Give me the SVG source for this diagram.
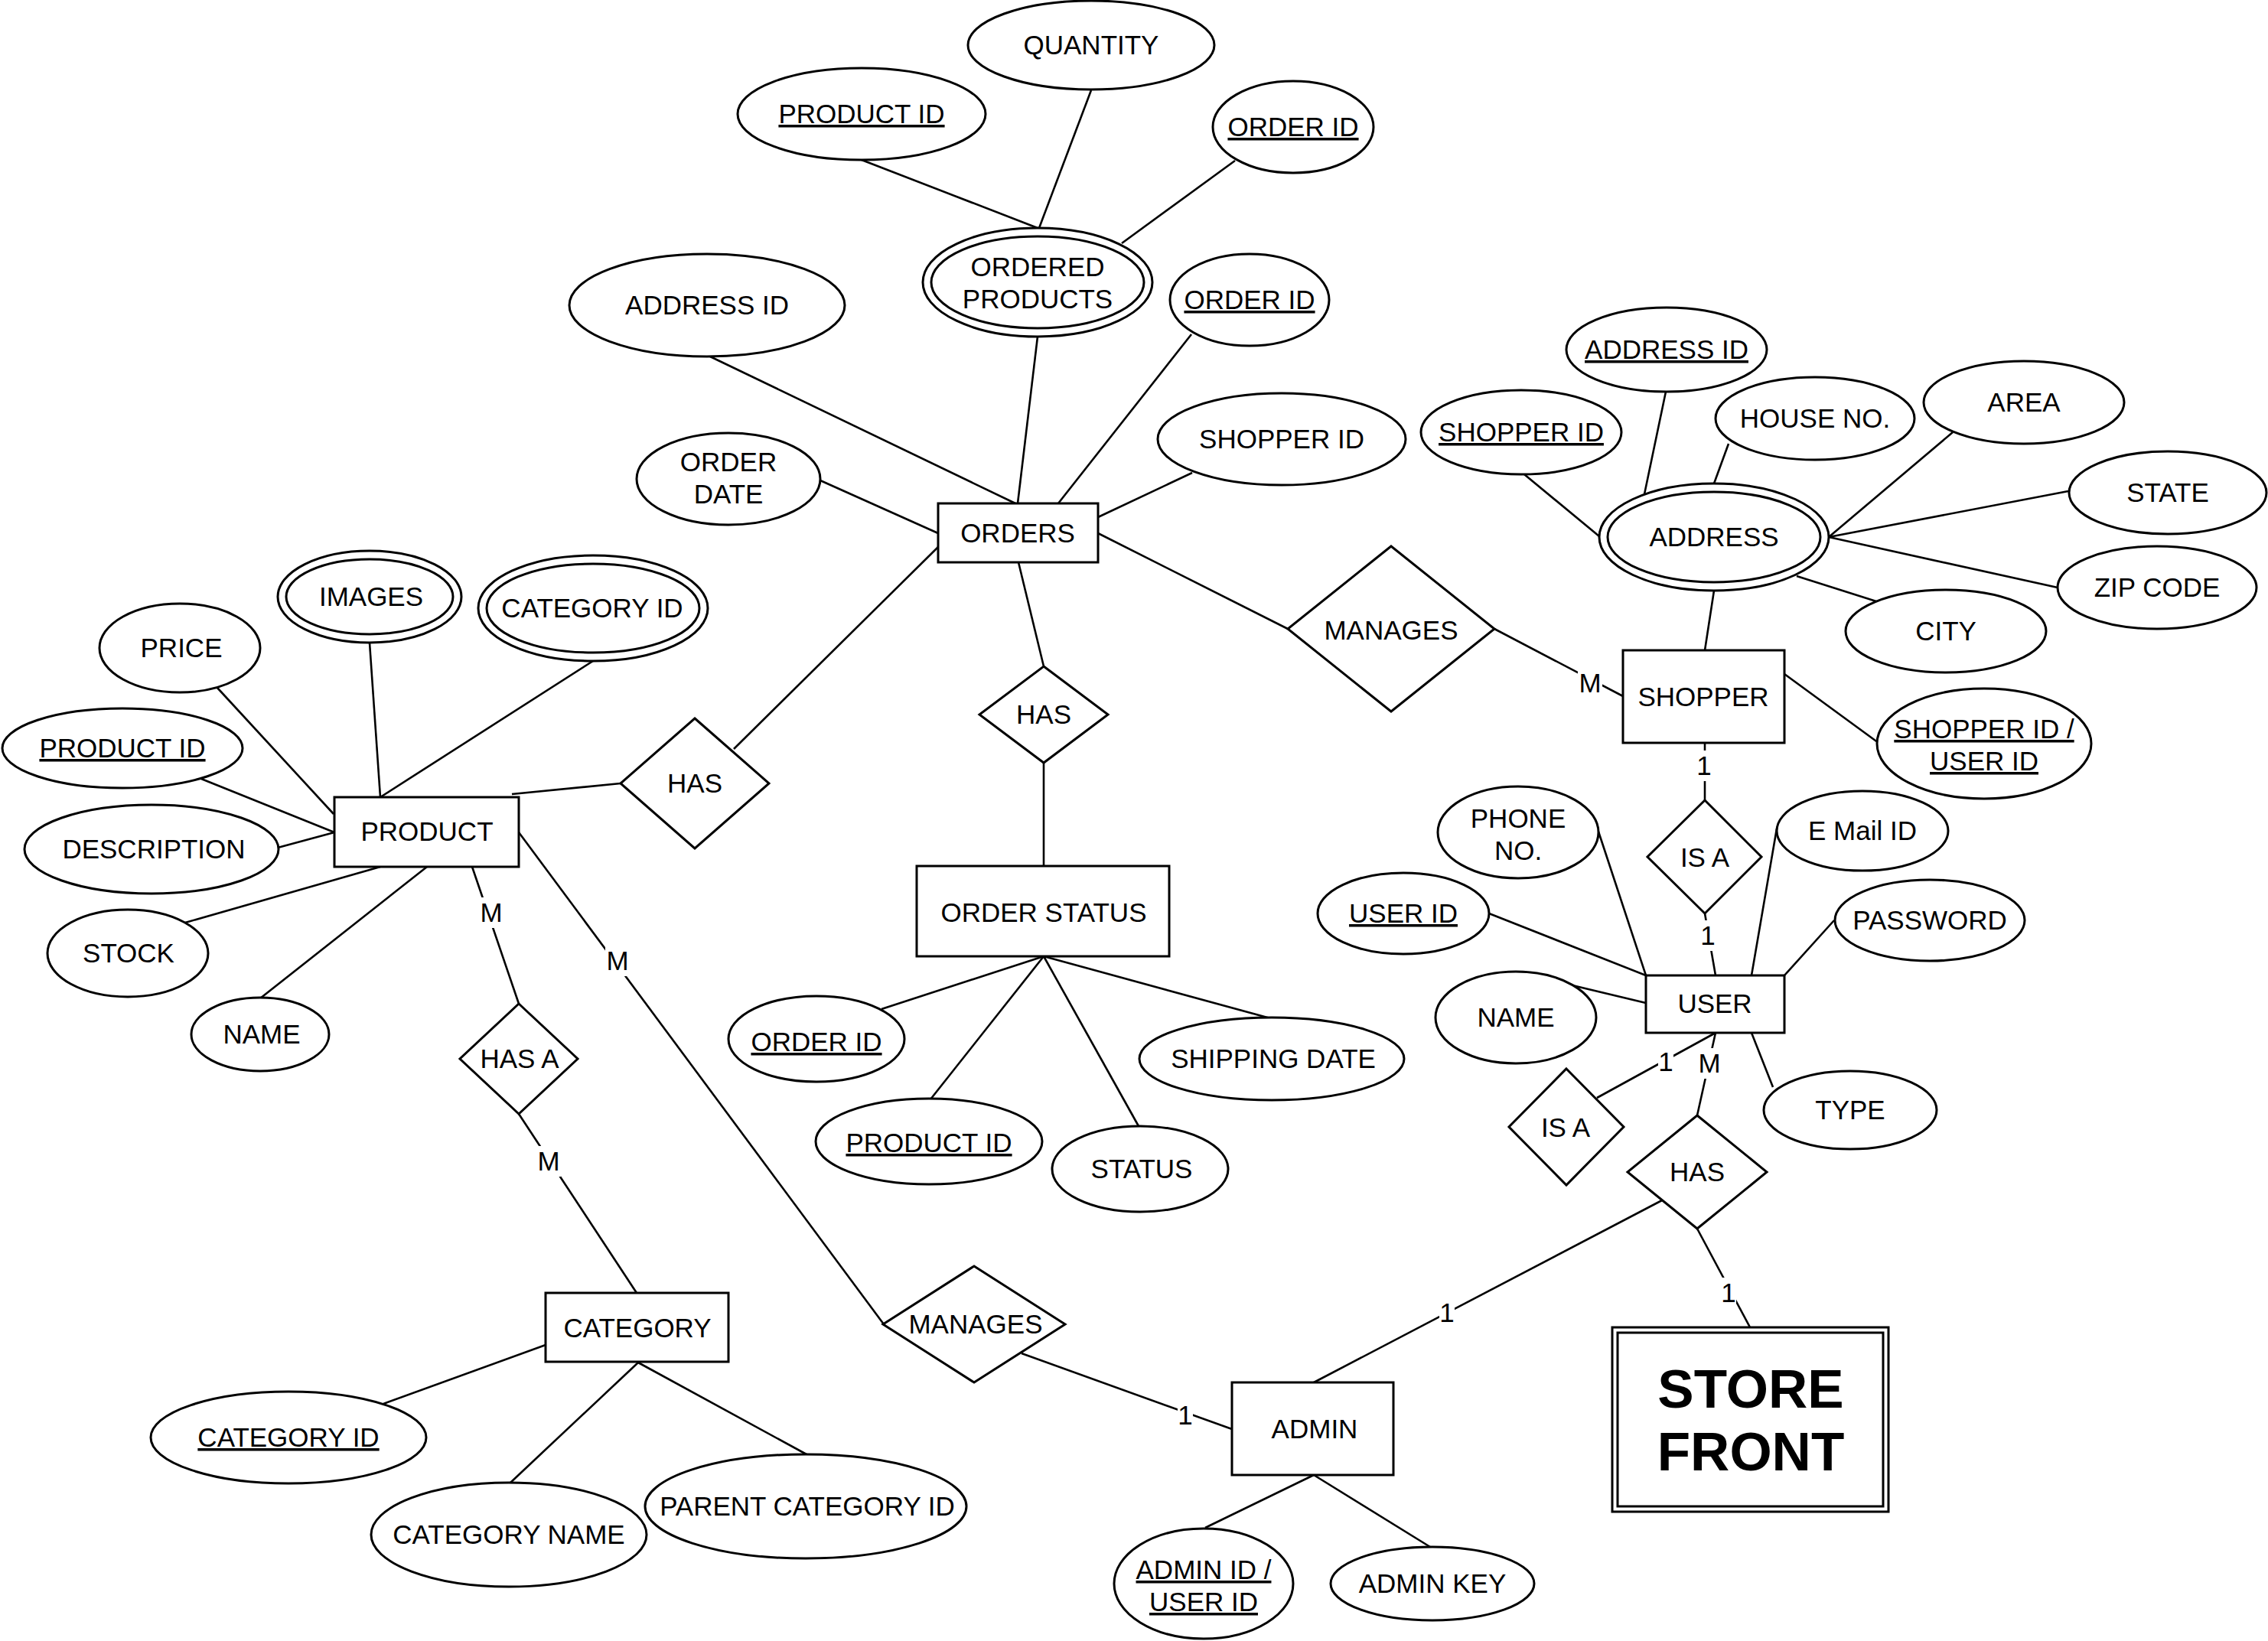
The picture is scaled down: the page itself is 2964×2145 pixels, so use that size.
<svg xmlns="http://www.w3.org/2000/svg" width="2964" height="2145" viewBox="0 0 2964 2145">
<style>
.s{fill:#fff;stroke:#000;stroke-width:3}
.t{font-family:"Liberation Sans",Arial,Helvetica,sans-serif;font-size:35px;text-anchor:middle;fill:#000}
.u{text-decoration:underline}
.b{font-weight:bold;font-size:71px}
.c line{stroke:#000;stroke-width:2.6}
.lb{fill:#fff;stroke:none}
</style>
<rect width="2964" height="2145" fill="#fff"/>
<g id="connectors" class="c">
<line x1="1126" y1="209" x2="1356" y2="298"/>
<line x1="1426" y1="118" x2="1358" y2="298"/>
<line x1="1614" y1="210" x2="1466" y2="318"/>
<line x1="1356" y1="440" x2="1330" y2="658"/>
<line x1="928" y1="466" x2="1327" y2="658"/>
<line x1="1557" y1="437" x2="1383" y2="658"/>
<line x1="1558" y1="618" x2="1435" y2="676"/>
<line x1="1072" y1="628" x2="1226" y2="697"/>
<line x1="1226" y1="715" x2="959" y2="979"/>
<line x1="669" y1="1038" x2="811" y2="1024"/>
<line x1="1331" y1="735" x2="1364" y2="871"/>
<line x1="1364" y1="997" x2="1364" y2="1132"/>
<line x1="1435" y1="697" x2="1683" y2="822"/>
<line x1="1953" y1="822" x2="2121" y2="910"/>
<line x1="1364" y1="1250" x2="1152" y2="1319"/>
<line x1="1364" y1="1250" x2="1216" y2="1437"/>
<line x1="1364" y1="1250" x2="1488" y2="1472"/>
<line x1="1364" y1="1250" x2="1660" y2="1331"/>
<line x1="1992" y1="620" x2="2090" y2="701"/>
<line x1="2177" y1="512" x2="2149" y2="646"/>
<line x1="2259" y1="580" x2="2240" y2="632"/>
<line x1="2552" y1="565" x2="2390" y2="702"/>
<line x1="2703" y1="642" x2="2390" y2="702"/>
<line x1="2689" y1="768" x2="2390" y2="702"/>
<line x1="2452" y1="786" x2="2348" y2="753"/>
<line x1="2240" y1="772" x2="2228" y2="850"/>
<line x1="2332" y1="881" x2="2455" y2="971"/>
<line x1="2228" y1="971" x2="2228" y2="1046"/>
<line x1="2228" y1="1194" x2="2242" y2="1275"/>
<line x1="2089" y1="1087" x2="2151" y2="1275"/>
<line x1="1946" y1="1194" x2="2151" y2="1275"/>
<line x1="2055" y1="1288" x2="2151" y2="1311"/>
<line x1="2322" y1="1083" x2="2289" y2="1275"/>
<line x1="2397" y1="1203" x2="2332" y2="1275"/>
<line x1="2317" y1="1421" x2="2289" y2="1350"/>
<line x1="2242" y1="1350" x2="2087" y2="1435"/>
<line x1="2242" y1="1350" x2="2218" y2="1458"/>
<line x1="2172" y1="1569" x2="1717" y2="1807"/>
<line x1="2218" y1="1606" x2="2287" y2="1735"/>
<line x1="1335" y1="1769" x2="1610" y2="1868"/>
<line x1="1717" y1="1928" x2="1575" y2="1997"/>
<line x1="1717" y1="1928" x2="1869" y2="2022"/>
<line x1="284" y1="899" x2="436" y2="1064"/>
<line x1="483" y1="840" x2="497" y2="1042"/>
<line x1="775" y1="864" x2="497" y2="1042"/>
<line x1="263" y1="1018" x2="437" y2="1088"/>
<line x1="363" y1="1108" x2="437" y2="1088"/>
<line x1="242" y1="1206" x2="497" y2="1133"/>
<line x1="340" y1="1305" x2="558" y2="1133"/>
<line x1="617" y1="1133" x2="678" y2="1312"/>
<line x1="678" y1="1088" x2="1155" y2="1731"/>
<line x1="678" y1="1456" x2="832" y2="1690"/>
<line x1="713" y1="1758" x2="501" y2="1835"/>
<line x1="834" y1="1781" x2="666" y2="1939"/>
<line x1="834" y1="1781" x2="1054" y2="1901"/>
<g id="labels">
<rect class="lb" x="2062" y="873" width="32" height="40"/><text class="t" x="2078" y="905">M</text>
<rect class="lb" x="2217" y="981" width="20" height="40"/><text class="t" x="2227" y="1013">1</text>
<rect class="lb" x="2222" y="1203" width="20" height="40"/><text class="t" x="2232" y="1235">1</text>
<rect class="lb" x="2167" y="1368" width="20" height="40"/><text class="t" x="2177" y="1400">1</text>
<rect class="lb" x="2218" y="1370" width="32" height="40"/><text class="t" x="2234" y="1402">M</text>
<rect class="lb" x="1881" y="1696" width="20" height="40"/><text class="t" x="1891" y="1728">1</text>
<rect class="lb" x="2249" y="1670" width="20" height="40"/><text class="t" x="2259" y="1702">1</text>
<rect class="lb" x="1539" y="1830" width="20" height="40"/><text class="t" x="1549" y="1862">1</text>
<rect class="lb" x="626" y="1173" width="32" height="40"/><text class="t" x="642" y="1205">M</text>
<rect class="lb" x="791" y="1236" width="32" height="40"/><text class="t" x="807" y="1268">M</text>
<rect class="lb" x="701" y="1498" width="32" height="40"/><text class="t" x="717" y="1530">M</text>
</g>
</g>
<g id="n-quantity"><ellipse class="s" cx="1426" cy="59" rx="161" ry="58"/><text class="t" x="1426" y="71">QUANTITY</text></g>
<g id="n-pid-op"><ellipse class="s" cx="1126" cy="149" rx="162" ry="60"/><text class="t u" x="1126" y="161">PRODUCT ID</text></g>
<g id="n-oid-op"><ellipse class="s" cx="1690" cy="166" rx="105" ry="60"/><text class="t u" x="1690" y="178">ORDER ID</text></g>
<g id="n-ordered-products"><ellipse class="s" cx="1356" cy="369" rx="150" ry="71"/><ellipse class="s" cx="1356" cy="369" rx="139" ry="60"/><text class="t" x="1356" y="361">ORDERED</text><text class="t" x="1356" y="403">PRODUCTS</text></g>
<g id="n-oid-o"><ellipse class="s" cx="1633" cy="392" rx="104" ry="60"/><text class="t u" x="1633" y="404">ORDER ID</text></g>
<g id="n-addrid-o"><ellipse class="s" cx="924" cy="399" rx="180" ry="67"/><text class="t" x="924" y="411">ADDRESS ID</text></g>
<g id="n-sid-o"><ellipse class="s" cx="1675" cy="574" rx="162" ry="60"/><text class="t" x="1675" y="586">SHOPPER ID</text></g>
<g id="n-odate"><ellipse class="s" cx="952" cy="626" rx="120" ry="60"/><text class="t" x="952" y="616">ORDER</text><text class="t" x="952" y="658">DATE</text></g>
<g id="n-orders"><rect class="s" x="1226" y="658" width="209" height="77"/><text class="t" x="1330" y="709">ORDERS</text></g>
<g id="n-has-op"><polygon class="s" points="908,939 1005,1024 908,1109 811,1024"/><text class="t" x="908" y="1036">HAS</text></g>
<g id="n-has-os"><polygon class="s" points="1364,871 1448,934 1364,997 1280,934"/><text class="t" x="1364" y="946">HAS</text></g>
<g id="n-manages-os"><polygon class="s" points="1818,714 1953,822 1818,930 1683,822"/><text class="t" x="1818" y="836">MANAGES</text></g>
<g id="n-shopper"><rect class="s" x="2121" y="850" width="211" height="121"/><text class="t" x="2226" y="923">SHOPPER</text></g>
<g id="n-address"><ellipse class="s" cx="2240" cy="702" rx="150" ry="70"/><ellipse class="s" cx="2240" cy="702" rx="139" ry="59"/><text class="t" x="2240" y="714">ADDRESS</text></g>
<g id="n-addrid-a"><ellipse class="s" cx="2178" cy="457" rx="131" ry="55"/><text class="t u" x="2178" y="469">ADDRESS ID</text></g>
<g id="n-sid-a"><ellipse class="s" cx="1988" cy="565" rx="131" ry="55"/><text class="t u" x="1988" y="577">SHOPPER ID</text></g>
<g id="n-houseno"><ellipse class="s" cx="2372" cy="547" rx="130" ry="54"/><text class="t" x="2372" y="559">HOUSE NO.</text></g>
<g id="n-area"><ellipse class="s" cx="2645" cy="526" rx="131" ry="54"/><text class="t" x="2645" y="538">AREA</text></g>
<g id="n-state"><ellipse class="s" cx="2833" cy="644" rx="129" ry="54"/><text class="t" x="2833" y="656">STATE</text></g>
<g id="n-zip"><ellipse class="s" cx="2819" cy="768" rx="130" ry="54"/><text class="t" x="2819" y="780">ZIP CODE</text></g>
<g id="n-city"><ellipse class="s" cx="2543" cy="825" rx="131" ry="54"/><text class="t" x="2543" y="837">CITY</text></g>
<g id="n-suid"><ellipse class="s" cx="2593" cy="972" rx="140" ry="72"/><text class="t u" x="2593" y="965">SHOPPER ID /</text><text class="t u" x="2593" y="1007">USER ID</text></g>
<g id="n-isa-shopper"><polygon class="s" points="2228,1046 2302,1120 2228,1194 2153,1120"/><text class="t" x="2228" y="1133">IS A</text></g>
<g id="n-user"><rect class="s" x="2151" y="1275" width="181" height="75"/><text class="t" x="2241" y="1324">USER</text></g>
<g id="n-phone"><ellipse class="s" cx="1984" cy="1088" rx="105" ry="60"/><text class="t" x="1984" y="1082">PHONE</text><text class="t" x="1984" y="1124">NO.</text></g>
<g id="n-uid"><ellipse class="s" cx="1834" cy="1194" rx="112" ry="53"/><text class="t u" x="1834" y="1206">USER ID</text></g>
<g id="n-email"><ellipse class="s" cx="2434" cy="1086" rx="112" ry="52"/><text class="t" x="2434" y="1098">E Mail ID</text></g>
<g id="n-password"><ellipse class="s" cx="2522" cy="1203" rx="124" ry="53"/><text class="t" x="2522" y="1215">PASSWORD</text></g>
<g id="n-uname"><ellipse class="s" cx="1981" cy="1330" rx="105" ry="60"/><text class="t" x="1981" y="1342">NAME</text></g>
<g id="n-type"><ellipse class="s" cx="2418" cy="1451" rx="113" ry="51"/><text class="t" x="2418" y="1463">TYPE</text></g>
<g id="n-isa-admin"><polygon class="s" points="2047,1397 2122,1473 2047,1549 1972,1473"/><text class="t" x="2046" y="1486">IS A</text></g>
<g id="n-has-sf"><polygon class="s" points="2218,1458 2309,1532 2218,1606 2127,1532"/><text class="t" x="2218" y="1544">HAS</text></g>
<g id="n-storefront"><rect class="s" x="2107" y="1735" width="361" height="241"/><rect class="s" x="2114" y="1742" width="347" height="227"/><text class="t b" x="2288" y="1840">STORE</text><text class="t b" x="2288" y="1922">FRONT</text></g>
<g id="n-admin"><rect class="s" x="1610" y="1807" width="211" height="121"/><text class="t" x="1718" y="1880">ADMIN</text></g>
<g id="n-adminid"><ellipse class="s" cx="1573" cy="2070" rx="117" ry="72"/><text class="t u" x="1573" y="2064">ADMIN ID /</text><text class="t u" x="1573" y="2106">USER ID</text></g>
<g id="n-adminkey"><ellipse class="s" cx="1872" cy="2070" rx="133" ry="48"/><text class="t" x="1872" y="2082">ADMIN KEY</text></g>
<g id="n-manages-pa"><polygon class="s" points="1273,1655 1392,1731 1273,1807 1154,1731"/><text class="t" x="1275" y="1743">MANAGES</text></g>
<g id="n-ostatus"><rect class="s" x="1198" y="1132" width="330" height="118"/><text class="t" x="1364" y="1205">ORDER STATUS</text></g>
<g id="n-oid-s"><ellipse class="s" cx="1067" cy="1358" rx="115" ry="56"/><text class="t u" x="1067" y="1374">ORDER ID</text></g>
<g id="n-pid-s"><ellipse class="s" cx="1214" cy="1492" rx="148" ry="56"/><text class="t u" x="1214" y="1506">PRODUCT ID</text></g>
<g id="n-status"><ellipse class="s" cx="1490" cy="1528" rx="115" ry="56"/><text class="t" x="1492" y="1540">STATUS</text></g>
<g id="n-shipdate"><ellipse class="s" cx="1662" cy="1384" rx="173" ry="54"/><text class="t" x="1664" y="1396">SHIPPING DATE</text></g>
<g id="n-product"><rect class="s" x="437" y="1042" width="241" height="91"/><text class="t" x="558" y="1099">PRODUCT</text></g>
<g id="n-images"><ellipse class="s" cx="483" cy="780" rx="120" ry="60"/><ellipse class="s" cx="483" cy="780" rx="109" ry="49"/><text class="t" x="485" y="792">IMAGES</text></g>
<g id="n-catid-p"><ellipse class="s" cx="775" cy="795" rx="150" ry="69"/><ellipse class="s" cx="775" cy="795" rx="139" ry="58"/><text class="t" x="774" y="807">CATEGORY ID</text></g>
<g id="n-price"><ellipse class="s" cx="235" cy="847" rx="105" ry="58"/><text class="t" x="237" y="859">PRICE</text></g>
<g id="n-pid-p"><ellipse class="s" cx="160" cy="978" rx="157" ry="52"/><text class="t u" x="160" y="990">PRODUCT ID</text></g>
<g id="n-desc"><ellipse class="s" cx="198" cy="1110" rx="166" ry="58"/><text class="t" x="201" y="1122">DESCRIPTION</text></g>
<g id="n-stock"><ellipse class="s" cx="167" cy="1246" rx="105" ry="57"/><text class="t" x="168" y="1258">STOCK</text></g>
<g id="n-pname"><ellipse class="s" cx="340" cy="1352" rx="90" ry="48"/><text class="t" x="342" y="1364">NAME</text></g>
<g id="n-hasa"><polygon class="s" points="678,1312 755,1384 678,1456 601,1384"/><text class="t" x="679" y="1396">HAS A</text></g>
<g id="n-category"><rect class="s" x="713" y="1690" width="239" height="90"/><text class="t" x="833" y="1748">CATEGORY</text></g>
<g id="n-catid-c"><ellipse class="s" cx="377" cy="1879" rx="180" ry="60"/><text class="t u" x="377" y="1891">CATEGORY ID</text></g>
<g id="n-catname"><ellipse class="s" cx="665" cy="2006" rx="180" ry="68"/><text class="t" x="665" y="2018">CATEGORY NAME</text></g>
<g id="n-parent"><ellipse class="s" cx="1053" cy="1969" rx="210" ry="68"/><text class="t" x="1055" y="1981">PARENT CATEGORY ID</text></g>
</svg>
